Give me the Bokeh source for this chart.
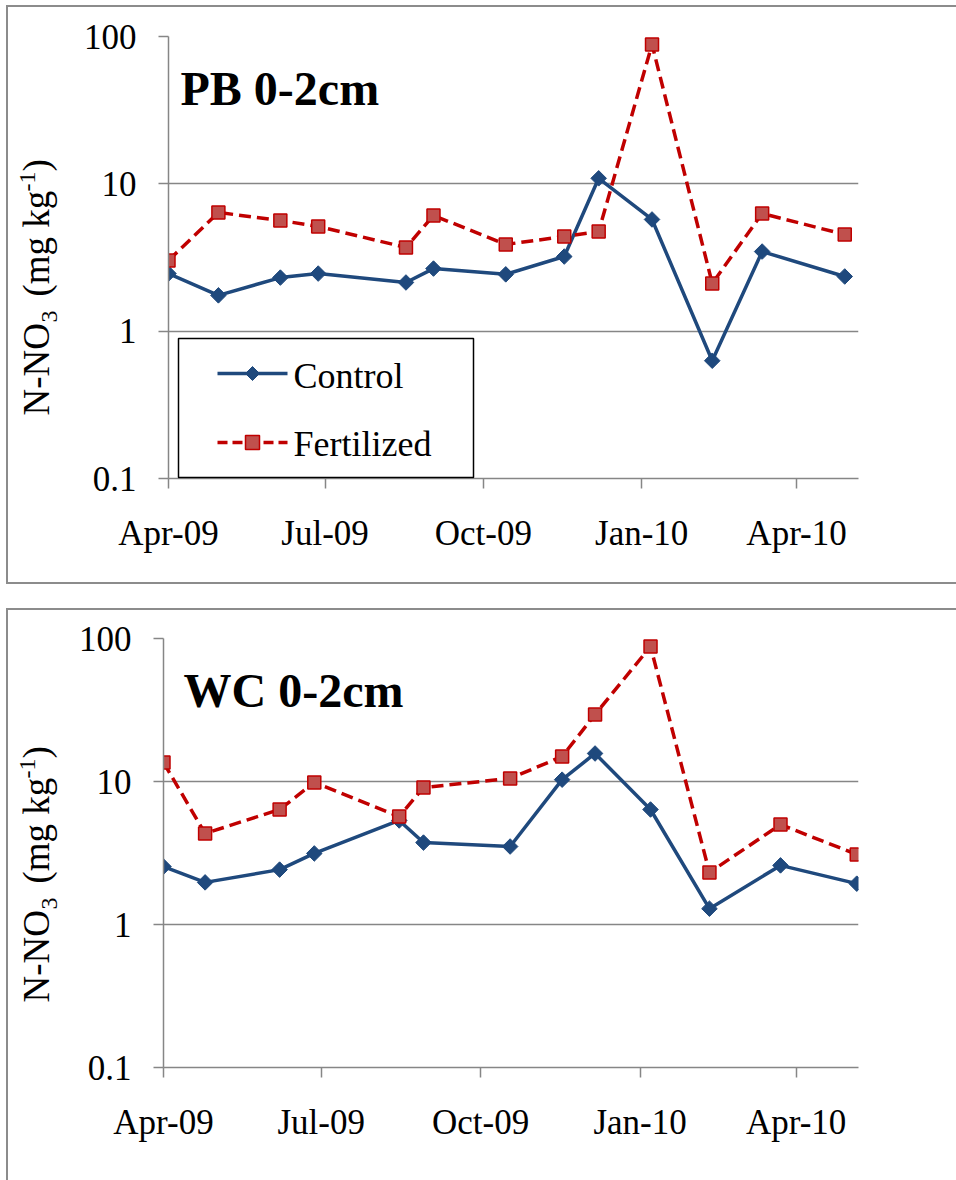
import numpy as np
import pandas as pd
from bokeh.plotting import figure
from bokeh.models import (ColumnDataSource, Range1d, FixedTicker, DatetimeTickFormatter,
                          CustomJSTickFormatter, Label, BoxAnnotation, PolyAnnotation)
from bokeh.layouts import column, row
from bokeh.embed import file_html
from bokeh.resources import INLINE

# Nitrate (N-NO3, mg/kg) in the 0-2 cm layer, two sites
pb_dates = ["2009-04-01", "2009-04-30", "2009-06-05", "2009-06-27", "2009-08-17", "2009-09-02",
            "2009-10-14", "2009-11-17", "2009-12-07", "2010-01-07", "2010-02-11", "2010-03-12",
            "2010-04-29"]
pb_control = [2.46, 1.75, 2.31, 2.46, 2.14, 2.66, 2.43, 3.21, 10.9, 5.73, 0.63, 3.47, 2.35]
pb_fertilized = [3.02, 6.39, 5.64, 5.14, 3.70, 6.10, 3.88, 4.39, 4.75, 88.3, 2.11, 6.29, 4.53]

wc_dates = ["2009-04-01", "2009-04-25", "2009-06-07", "2009-06-27", "2009-08-15", "2009-08-29",
            "2009-10-18", "2009-11-17", "2009-12-06", "2010-01-07", "2010-02-10", "2010-03-23",
            "2010-05-06"]
wc_control = [2.54, 1.97, 2.42, 3.14, 5.34, 3.74, 3.51, 10.3, 15.7, 6.37, 1.29, 2.59, 1.93]
wc_fertilized = [13.6, 4.33, 6.37, 9.84, 5.69, 9.08, 10.5, 14.96, 29.4, 87.9, 2.31, 5.0, 3.09]

series_names = ["Control", "Fertilized"]
x_tick_dates = ["2009-04-01", "2009-07-01", "2009-10-01", "2010-01-01", "2010-04-01"]
y_ticks = [0.1, 1, 10, 100]
x_start, x_end = "2009-04-01", "2010-05-07"

BLUE = "#1F497D"
RED_LINE = "#C00000"
RED_FILL = "#C0504D"
GRAY = "#868686"
FONT = "Liberation Serif"
LABEL_W = 60
BASE_SHIFT = 0.31  # alphabetic-baseline correction, in em


def to_ms(s):
    return float(pd.Timestamp(s).value // 10**6)


def canvas_box(left, right, top, bottom, **kw):
    return BoxAnnotation(left=left, right=right, top=top, bottom=bottom,
                         left_units="canvas", right_units="canvas",
                         top_units="canvas", bottom_units="canvas", **kw)


def text_at(x, y, text, size, **kw):
    """Horizontal text with its baseline at canvas y."""
    return Label(x=x, y=y - BASE_SHIFT * size, x_units="canvas", y_units="canvas", text=text,
                 text_font=FONT, text_font_size=f"{size}px", text_color="black",
                 text_baseline="alphabetic", **kw)


def ylabel_panel(height, base_x, starts):
    """Narrow strip holding the rotated y-axis title with sub/superscripts."""
    f = figure(width=LABEL_W, height=height, x_range=Range1d(0, LABEL_W),
               y_range=Range1d(0, height), output_backend="svg", toolbar_location=None,
               x_axis_location=None, y_axis_location=None, min_border=0)
    f.grid.visible = False
    f.outline_line_color = None
    f.border_fill_color = "white"
    pieces = [("N-NO", 37, 0), ("3", 24, 9), ("(mg kg", 37, 0), ("-1", 24, -13), (")", 37, 0)]
    for (txt, size, shift), ys in zip(pieces, starts):
        f.add_layout(Label(x=base_x + shift - BASE_SHIFT * size, y=ys,
                           x_units="canvas", y_units="canvas",
                           text=txt, angle=np.pi / 2, text_font=FONT, text_color="black",
                           text_font_size=f"{size}px", text_align="left",
                           text_baseline="alphabetic"))
    return f


def add_legend(p, box):
    """Legend drawn in canvas pixels: box = (left, top) of the framed legend."""
    L, T = box
    p.add_layout(canvas_box(L, L + 295, T, T + 139, fill_color="white", fill_alpha=1,
                            line_color="black", line_alpha=1, line_width=1.5))
    gx0, gx1, cx = L + 39, L + 109, L + 74
    y1, y2 = T + 35, T + 104
    # Control: solid line with a diamond
    p.add_layout(canvas_box(gx0, gx1, y1 - 1.75, y1 + 1.75, fill_color=BLUE, fill_alpha=1,
                            line_alpha=0))
    d = 7
    p.add_layout(PolyAnnotation(xs=[cx, cx + d, cx, cx - d], ys=[y1 - d, y1, y1 + d, y1],
                                xs_units="canvas", ys_units="canvas",
                                fill_color=BLUE, fill_alpha=1, line_color=BLUE,
                                line_alpha=1, line_width=1))
    # Fertilized: dashed line with a square
    for a, b in [(0, 10), (15, 25), (46, 56), (61, 70)]:
        p.add_layout(canvas_box(gx0 + a, gx0 + b, y2 - 1.75, y2 + 1.75, fill_color=RED_LINE,
                                fill_alpha=1, line_alpha=0))
    p.add_layout(canvas_box(cx - 7, cx + 7, y2 - 7, y2 + 7, fill_color=RED_FILL, fill_alpha=1,
                            line_color=RED_LINE, line_alpha=1, line_width=1.5))
    for name, yb in zip(series_names, [y1 + 14, y2 + 13]):
        p.add_layout(text_at(gx1 + 6, yb, name, 36))


def make_panel(title, dates, control, fertilized, height, left, top, bottom, title_pos,
               legend_box=None):
    width = 956 - 8 - LABEL_W
    p = figure(width=width, height=height, x_axis_type="datetime", y_axis_type="log",
               x_range=Range1d(pd.Timestamp(x_start), pd.Timestamp(x_end)),
               y_range=Range1d(0.1, 100),
               output_backend="svg", toolbar_location=None,
               min_border_left=left, min_border_right=98,
               min_border_top=top, min_border_bottom=height - bottom)
    p.outline_line_color = None
    p.background_fill_color = "white"
    p.border_fill_color = "white"

    p.xaxis.ticker = FixedTicker(ticks=[to_ms(d) for d in x_tick_dates])
    fmt = "%b-%y"
    p.xaxis.formatter = DatetimeTickFormatter(
        years=fmt, months=fmt, days=fmt, hours=fmt, hourmin=fmt, minutes=fmt,
        minsec=fmt, seconds=fmt, milliseconds=fmt, microseconds=fmt)
    p.yaxis.ticker = FixedTicker(ticks=y_ticks)
    p.yaxis.formatter = CustomJSTickFormatter(code="return tick.toString()")
    for ax in (p.xaxis[0], p.yaxis[0]):
        ax.axis_line_color = GRAY
        ax.axis_line_width = 1.5
        ax.major_tick_line_color = GRAY
        ax.major_tick_line_width = 1.5
        ax.major_tick_out = 10
        ax.major_tick_in = 0
        ax.minor_tick_line_color = None
        ax.major_label_text_font = FONT
        ax.major_label_text_font_size = "35px"
        ax.major_label_text_color = "black"
    p.xaxis.major_label_standoff = 25
    p.yaxis.major_label_standoff = 22

    p.xgrid.visible = False
    p.ygrid.ticker = FixedTicker(ticks=[1, 10, 100])
    p.ygrid.grid_line_color = GRAY
    p.ygrid.grid_line_width = 1.5

    src = ColumnDataSource(dict(x=pd.to_datetime(dates), control=control, fertilized=fertilized))
    p.line("x", "control", source=src, line_color=BLUE, line_width=3.5)
    p.scatter("x", "control", source=src, marker="square", angle=np.pi / 4, size=11,
              fill_color=BLUE, line_color=BLUE)
    p.line("x", "fertilized", source=src, line_color=RED_LINE, line_width=3.5,
           line_dash="12 6")
    p.scatter("x", "fertilized", source=src, marker="square", size=13,
              fill_color=RED_FILL, line_color=RED_LINE, line_width=1.5)

    p.add_layout(text_at(title_pos[0], title_pos[1], title, 48, text_font_style="bold"))
    if legend_box is not None:
        add_legend(p, legend_box)
    return p


# gray frame on the left, top and bottom of each panel (right edge runs off the page)
EDGE = "#8C8C8C"
frame_top = {"box-shadow": f"-2px 0 0 0 {EDGE}, 0 -2px 0 0 {EDGE}, 0 2px 0 0 {EDGE}, "
                           f"-2px -2px 0 0 {EDGE}, -2px 2px 0 0 {EDGE}"}
frame_bottom = {"box-shadow": f"-2px 0 0 0 {EDGE}, 0 -2px 0 0 {EDGE}, -2px -2px 0 0 {EDGE}"}

top_h = 575
p1 = make_panel("PB 0-2cm", pb_dates, pb_control, pb_fertilized, height=top_h,
                left=100, top=29, bottom=471, title_pos=(112, 96), legend_box=(110, 331))
lab1 = ylabel_panel(top_h, 39, [408, 315, 289, 184, 164])
row1 = row(lab1, p1, margin=(7, 0, 0, 8), styles=frame_top)

bot_h = 570
p2 = make_panel("WC 0-2cm", wc_dates, wc_control, wc_fertilized, height=bot_h,
                left=95, top=28, bottom=457, title_pos=(115, 95))
lab2 = ylabel_panel(bot_h, 39, [392, 299, 273, 168, 148])
row2 = row(lab2, p2, margin=(28, 0, 0, 8), styles=frame_bottom)

layout = column(row1, row2, spacing=0)
open("out.html", "w").write(file_html(layout, INLINE))
